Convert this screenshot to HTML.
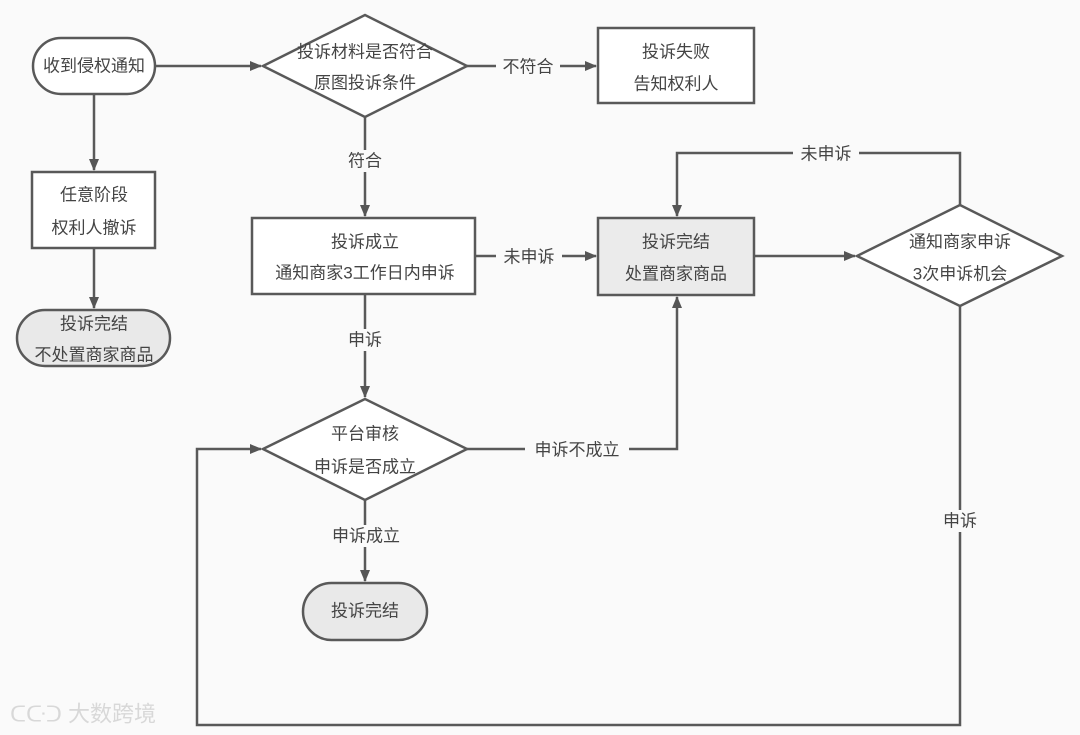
<!DOCTYPE html>
<html><head><meta charset="utf-8">
<style>
html,body{margin:0;padding:0;background:#fafafa;}
svg{display:block;}
text{font-family:"Liberation Sans","Noto Sans CJK SC",sans-serif;font-size:17px;fill:#444;text-anchor:middle;dominant-baseline:central;}
</style></head>
<body>
<svg width="1080" height="735" viewBox="0 0 1080 735" xmlns="http://www.w3.org/2000/svg">
<defs>
<marker id="a" markerWidth="12" markerHeight="10" refX="11" refY="5" orient="auto" markerUnits="userSpaceOnUse">
<path d="M0,0 L12,5 L0,10 Z" fill="#555"/>
</marker>
</defs>
<rect width="1080" height="735" fill="#fafafa"/>
<g stroke="#595959" stroke-width="2.5" fill="none">
<line x1="155" y1="66" x2="261" y2="66" marker-end="url(#a)"/>
<line x1="467" y1="66" x2="596" y2="66" marker-end="url(#a)"/>
<line x1="365" y1="117" x2="365" y2="216" marker-end="url(#a)"/>
<line x1="94" y1="94" x2="94" y2="170" marker-end="url(#a)"/>
<line x1="94" y1="248" x2="94" y2="308" marker-end="url(#a)"/>
<line x1="475" y1="256" x2="596" y2="256" marker-end="url(#a)"/>
<line x1="754" y1="256" x2="855" y2="256" marker-end="url(#a)"/>
<polyline points="960,205 960,153 677,153 677,216" marker-end="url(#a)"/>
<line x1="365" y1="294" x2="365" y2="397" marker-end="url(#a)"/>
<polyline points="467,449 677,449 677,297" marker-end="url(#a)"/>
<line x1="365" y1="500" x2="365" y2="581" marker-end="url(#a)"/>
<polyline points="960,306 960,725 197,725 197,449 261,449" marker-end="url(#a)"/>
<rect x="33" y="38" width="122" height="56" rx="28" fill="#fff"/>
<polygon points="263,66 365,15 467,66 365,117" fill="#fff"/>
<rect x="598" y="28" width="156" height="75" fill="#fff"/>
<rect x="32" y="172" width="123" height="76" fill="#fff"/>
<rect x="17" y="310" width="153" height="56" rx="28" fill="#e9e9e9"/>
<rect x="252" y="218" width="223" height="76" fill="#fff"/>
<rect x="598" y="218" width="156" height="77" fill="#ebebeb"/>
<polygon points="857,256 960,205 1062,256 960,306" fill="#fff"/>
<polygon points="263,449 365,399 467,449 365,500" fill="#fff"/>
<rect x="303" y="583" width="124" height="57" rx="28.5" fill="#e9e9e9"/>
</g>
<g fill="#fafafa">
<rect x="496" y="56" width="64" height="22"/>
<rect x="343" y="150" width="44" height="22"/>
<rect x="496" y="246" width="66" height="22"/>
<rect x="793" y="143" width="66" height="22"/>
<rect x="343" y="329" width="44" height="22"/>
<rect x="525" y="438" width="104" height="22"/>
<rect x="324" y="525" width="84" height="22"/>
<rect x="938" y="510" width="44" height="22"/>
</g>
<text x="94" y="66">收到侵权通知</text>
<text x="365" y="52">投诉材料是否符合</text>
<text x="365" y="83">原图投诉条件</text>
<text x="676" y="52">投诉失败</text>
<text x="676" y="84">告知权利人</text>
<text x="528" y="67">不符合</text>
<text x="365" y="161">符合</text>
<text x="94" y="195">任意阶段</text>
<text x="94" y="228">权利人撤诉</text>
<text x="94" y="324">投诉完结</text>
<text x="94" y="355">不处置商家商品</text>
<text x="365" y="242">投诉成立</text>
<text x="365" y="273">通知商家3工作日内申诉</text>
<text x="529" y="257">未申诉</text>
<text x="676" y="242">投诉完结</text>
<text x="676" y="274">处置商家商品</text>
<text x="826" y="154">未申诉</text>
<text x="960" y="242">通知商家申诉</text>
<text x="960" y="274">3次申诉机会</text>
<text x="365" y="340">申诉</text>
<text x="365" y="434">平台审核</text>
<text x="365" y="467">申诉是否成立</text>
<text x="577" y="450">申诉不成立</text>
<text x="366" y="536">申诉成立</text>
<text x="365" y="611">投诉完结</text>
<text x="960" y="521">申诉</text>
<text x="10" y="714" style="font-size:22px;fill:#d8d8d8;text-anchor:start">ᑕᑢᑐ 大数跨境</text>
</svg>
</body></html>
